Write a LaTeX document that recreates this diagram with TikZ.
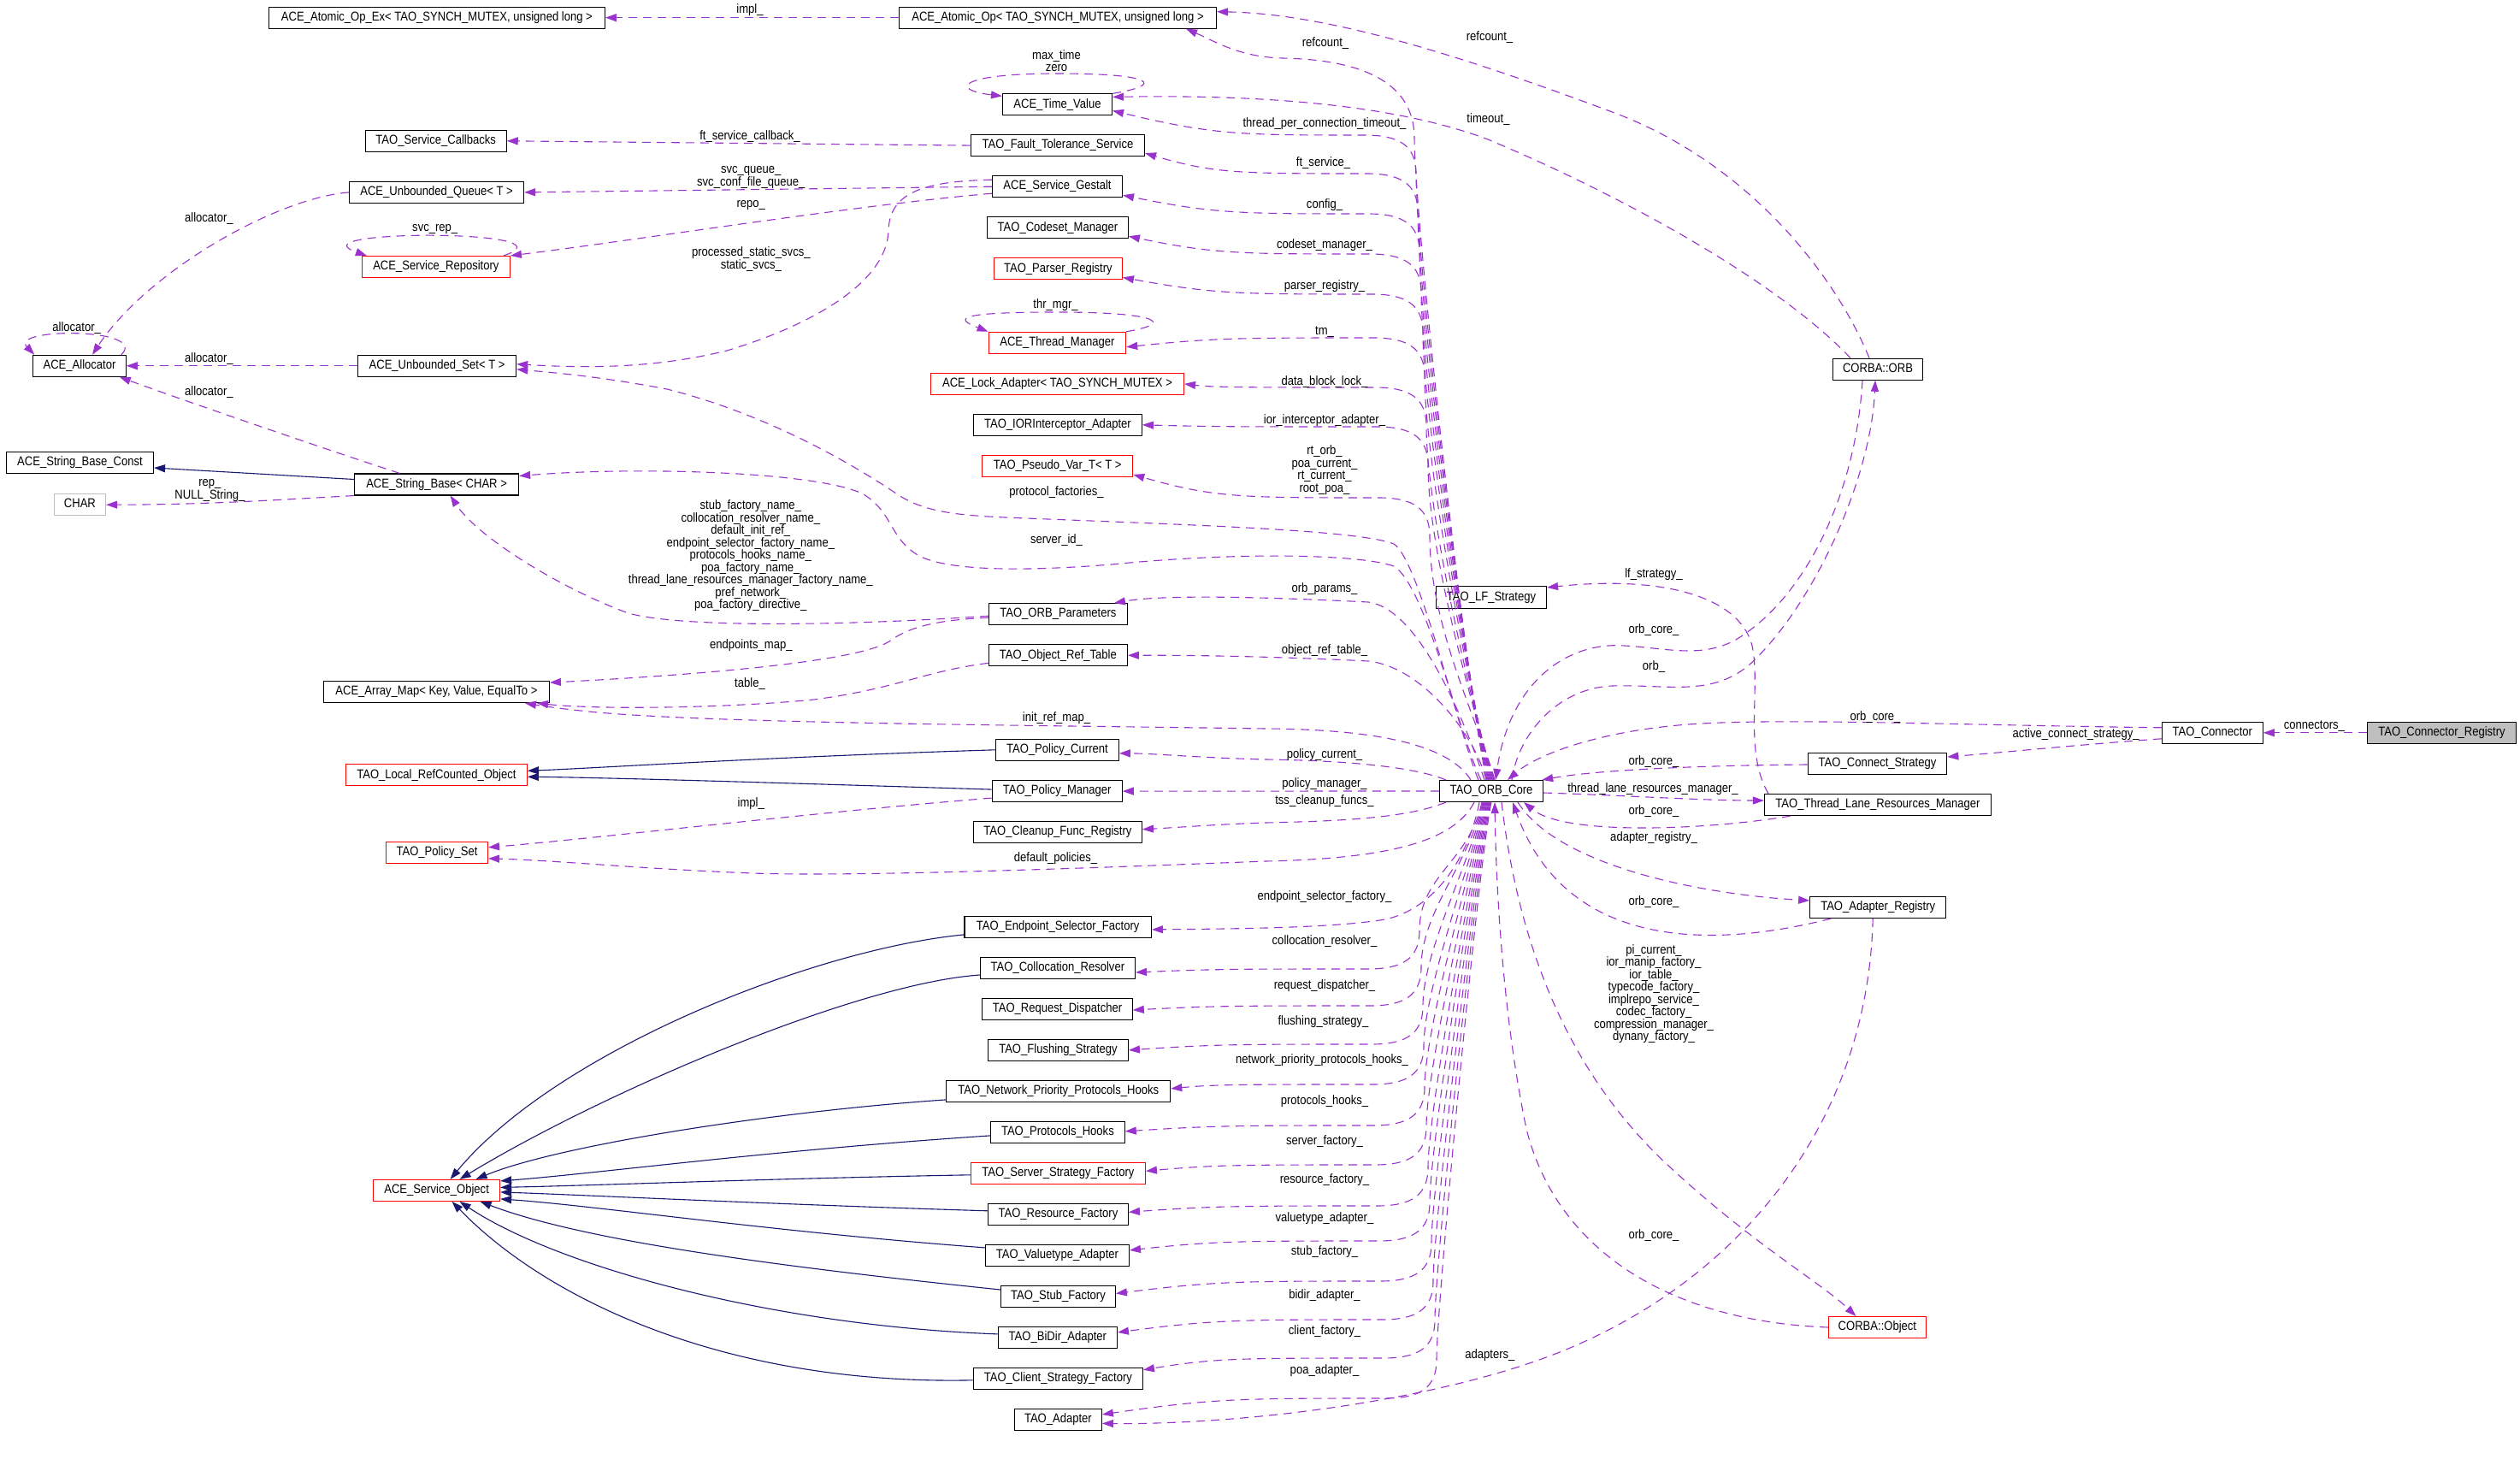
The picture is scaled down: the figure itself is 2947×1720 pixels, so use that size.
\documentclass[tikz,border=0pt]{standalone}
\usepackage{fontspec}
\setmainfont{Liberation Sans}[FakeStretch=0.87]
\usetikzlibrary{arrows.meta}
\definecolor{depcol}{HTML}{9A32CD}
\definecolor{inhcol}{HTML}{191970}
\definecolor{boxgray}{HTML}{BFBFBF}
\tikzset{
 cls/.style={draw=black, line width=1.1pt, rectangle, minimum height=25pt, inner sep=0pt, text height=11pt, text depth=3.5pt, font=\fontsize{15}{14.5}\selectfont, text=black},
 redcls/.style={cls, draw=red},
 graycls/.style={cls, draw=boxgray},
 dep/.style={draw=depcol, line width=1.1pt, dash pattern=on 10pt off 7pt, -{Triangle[length=13pt,width=9pt]}},
 inh/.style={draw=inhcol, line width=1.1pt, -{Triangle[length=13pt,width=9pt]}},
 lbl/.style={inner sep=0pt, font=\fontsize{15}{14.5}\selectfont, align=center},
}
\newcommand\fanT[4]{\draw[dep] ([xshift=#1pt]orbcore.north) .. controls +(-20,-70) and (#2,{#3+150}) .. (#2,{#3+45}) .. controls (#2,{#3+12}) and ({#2-20},#3) .. ({#2-60},#3) .. controls (1450,#3) and (1420,#3) .. (#4);}
\newcommand\fanB[4]{\draw[dep] ([xshift=#1pt]orbcore.south) .. controls +(-15,70) and (#2,{#3-110}) .. (#2,{#3-45}) .. controls (#2,{#3-12}) and ({#2-20},#3) .. ({#2-60},#3) .. controls (1450,#3) and (1420,#3) .. (#4);}
\begin{document}
\catcode`\_=12
\begin{tikzpicture}[x=1pt,y=-1pt]
\fill[white] (0,0) rectangle (2947,1720);
\useasboundingbox (0,0) rectangle (2947,1720);

% ---------- nodes, left column ----------
\node[cls, minimum width=393pt] (atomicopex) at (510.9,20.7) {ACE_Atomic_Op_Ex< TAO_SYNCH_MUTEX, unsigned long >};
\node[cls, minimum width=165pt] (callbacks) at (509.7,164.8) {TAO_Service_Callbacks};
\node[cls, minimum width=204pt] (uqueue) at (510.6,224.9) {ACE_Unbounded_Queue< T >};
\node[redcls, minimum width=173pt] (srepo) at (509.9,312) {ACE_Service_Repository};
\node[cls, minimum width=108.5pt] (allocator) at (93,427.8) {ACE_Allocator};
\node[cls, minimum width=185pt] (uset) at (511.1,427.8) {ACE_Unbounded_Set< T >};
\node[cls, minimum width=172pt] (sbconst) at (93.5,541) {ACE_String_Base_Const};
\node[cls, minimum width=192pt] (stringbase) at (510.6,566.5) {ACE_String_Base< CHAR >};
\node[graycls, minimum width=60.4pt] (char) at (93.4,590.2) {CHAR};
\node[cls, minimum width=264pt] (arraymap) at (510.4,809.1) {ACE_Array_Map< Key, Value, EqualTo >};
\node[redcls, minimum width=212pt] (localref) at (510.4,906.3) {TAO_Local_RefCounted_Object};
\node[redcls, minimum width=119pt] (policyset) at (511,996.8) {TAO_Policy_Set};
\node[redcls, minimum width=148pt] (so) at (510.6,1391.9) {ACE_Service_Object};

% ---------- nodes, middle column ----------
\node[cls, minimum width=371pt] (atomicop) at (1237,20.7) {ACE_Atomic_Op< TAO_SYNCH_MUTEX, unsigned long >};
\node[cls, minimum width=128pt] (timevalue) at (1236.5,122.4) {ACE_Time_Value};
\node[cls, minimum width=203pt] (fts) at (1237,170.1) {TAO_Fault_Tolerance_Service};
\node[cls, minimum width=152pt] (gestalt) at (1236.5,218.2) {ACE_Service_Gestalt};
\node[cls, minimum width=165pt] (codeset) at (1236.9,266.3) {TAO_Codeset_Manager};
\node[redcls, minimum width=150pt] (parser) at (1237.4,314.4) {TAO_Parser_Registry};
\node[redcls, minimum width=160.5pt] (tm) at (1236.4,400.8) {ACE_Thread_Manager};
\node[redcls, minimum width=296pt] (lock) at (1236.5,448.9) {ACE_Lock_Adapter< TAO_SYNCH_MUTEX >};
\node[cls, minimum width=197pt] (ior) at (1236.9,496.8) {TAO_IORInterceptor_Adapter};
\node[redcls, minimum width=176pt] (pseudovar) at (1236.7,544.9) {TAO_Pseudo_Var_T< T >};
\node[cls, minimum width=162pt] (orbparams) at (1237.4,718.2) {TAO_ORB_Parameters};
\node[cls, minimum width=162pt] (objreftable) at (1237.4,766.3) {TAO_Object_Ref_Table};
\node[cls, minimum width=144pt] (policycurrent) at (1236.4,876.8) {TAO_Policy_Current};
\node[cls, minimum width=152pt] (policymanager) at (1236.2,925.1) {TAO_Policy_Manager};
\node[cls, minimum width=197pt] (cleanup) at (1236.9,972.7) {TAO_Cleanup_Func_Registry};
\node[cls, minimum width=218.5pt] (eps) at (1237.2,1083.9) {TAO_Endpoint_Selector_Factory};
\node[cls, minimum width=181pt] (colloc) at (1236.9,1132) {TAO_Collocation_Resolver};
\node[cls, minimum width=175.5pt] (reqdisp) at (1236.5,1180) {TAO_Request_Dispatcher};
\node[cls, minimum width=164pt] (flushing) at (1237.4,1227.9) {TAO_Flushing_Strategy};
\node[cls, minimum width=262pt] (netprio) at (1237.7,1275.9) {TAO_Network_Priority_Protocols_Hooks};
\node[cls, minimum width=156.6pt] (protohooks) at (1236.9,1323.9) {TAO_Protocols_Hooks};
\node[redcls, minimum width=204pt] (serverstrat) at (1237.4,1371.8) {TAO_Server_Strategy_Factory};
\node[cls, minimum width=164pt] (resfac) at (1237.4,1419.8) {TAO_Resource_Factory};
\node[cls, minimum width=168pt] (valuetype) at (1236.4,1467.9) {TAO_Valuetype_Adapter};
\node[cls, minimum width=134pt] (stub) at (1237.4,1516) {TAO_Stub_Factory};
\node[cls, minimum width=139pt] (bidir) at (1236.9,1563.9) {TAO_BiDir_Adapter};
\node[cls, minimum width=198pt] (clientstrat) at (1237.4,1611.8) {TAO_Client_Strategy_Factory};
\node[cls, minimum width=102pt] (adapter) at (1237.4,1659.9) {TAO_Adapter};

% ---------- nodes, right ----------
\node[cls, minimum width=129pt, minimum height=26pt] (lf) at (1744,698.5) {TAO_LF_Strategy};
\node[cls, minimum width=121.3pt] (orbcore) at (1744,925) {TAO_ORB_Core};
\node[cls, minimum width=105pt] (orb) at (2196,431.7) {CORBA::ORB};
\node[cls, minimum width=162.5pt] (connstrat) at (2195.5,893) {TAO_Connect_Strategy};
\node[cls, minimum width=265pt] (threadlane) at (2196,941) {TAO_Thread_Lane_Resources_Manager};
\node[cls, minimum width=159pt] (adreg) at (2196.2,1061) {TAO_Adapter_Registry};
\node[cls, minimum width=118pt] (connector) at (2587.3,856.8) {TAO_Connector};
\node[cls, fill=boxgray, minimum width=174.4pt] (connreg) at (2855.5,856.8) {TAO_Connector_Registry};
\node[redcls, minimum width=114pt] (corbaobj) at (2195.4,1552) {CORBA::Object};

% ---------- ORB_Core fan, upper ----------
\draw[dep] ([xshift=-5pt]orbcore.north) .. controls +(-20,-70) and (1654,260) .. (1654,160) .. controls (1653,100) and (1600,70) .. (1500,68) .. controls (1450,67) and (1420,48) .. ([xshift=-36pt]atomicop.south east);
\fanT{-4}{1656}{158}{[yshift=-7pt]timevalue.east}
\fanT{-3}{1658}{203}{[yshift=-9pt]fts.east}
\fanT{-2}{1660}{250}{[yshift=-10pt]gestalt.east}
\fanT{-1}{1662}{297}{[yshift=-10pt]codeset.east}
\fanT{0}{1664}{344}{[yshift=-10pt]parser.east}
\fanT{1}{1666}{395}{[yshift=-5pt]tm.east}
\fanT{2}{1668}{453}{lock.east}
\fanT{3}{1670}{499}{ior.east}
\fanT{4}{1672}{582}{[yshift=-10pt]pseudovar.east}
\draw[dep] ([xshift=-15pt]orbcore.north) .. controls +(-25,-60) and (1660,655) .. (1630,636) .. controls (1590,620) and (1400,614) .. (1200,606) .. controls (1120,603) and (1080,600) .. (1045,575) .. controls (1000,545) and (900,485) .. (780,455) .. controls (700,440) and (650,436) .. ([yshift=-4pt]uset.east);
\draw[dep] ([xshift=-12pt]orbcore.north) .. controls +(-25,-50) and (1668,685) .. (1630,662) .. controls (1590,648) and (1450,645) .. (1300,660) .. controls (1200,668) and (1110,668) .. (1075,650) .. controls (1040,630) and (1045,600) .. (1010,578) .. controls (960,552) and (750,545) .. ([yshift=10pt]stringbase.east);
\draw[dep] ([xshift=-8pt]orbcore.north) .. controls +(-20,-60) and (1662,712) .. (1600,704) .. controls (1480,698) and (1360,695) .. ([xshift=-16pt]orbparams.north east);
\draw[dep] ([xshift=-6pt]orbcore.north) .. controls +(-12,-50) and (1665,780) .. (1600,773) .. controls (1480,767) and (1380,766) .. (objreftable.east);
\draw[dep] ([xshift=-24pt]orbcore.north) .. controls (1700,880) and (1640,853) .. (1480,852) .. controls (1200,848) and (900,846) .. (740,836) .. controls (690,833) and (650,828) .. ([xshift=-29pt]arraymap.south east);
\draw[dep] ([xshift=8pt]orbcore.north west) .. controls (1650,895) and (1560,889) .. (1480,888) .. controls (1400,886) and (1350,881) .. ([yshift=-4pt]policycurrent.east);
\draw[dep] (orbcore.west) -- (policymanager.east);

% ---------- ORB_Core fan, lower ----------
\draw[dep] ([xshift=8pt]orbcore.south west) .. controls (1650,955) and (1580,960) .. (1480,962) .. controls (1420,964) and (1370,968) .. ([yshift=3pt]cleanup.east);
\draw[dep] ([xshift=-20pt]orbcore.south) .. controls (1700,985) and (1620,1004) .. (1480,1007) .. controls (1250,1016) and (1000,1025) .. (880,1021) .. controls (750,1016) and (650,1006) .. ([yshift=-7pt]policyset.east);
\draw[dep] ([xshift=-14pt]orbcore.south) .. controls (1718,1000) and (1680,1062) .. (1620,1075) .. controls (1560,1085) and (1450,1086) .. ([yshift=-3pt]eps.east);
\fanB{-11}{1660}{1133}{[yshift=-5pt]colloc.east}
\fanB{-10}{1662}{1176}{[yshift=-1pt]reqdisp.east}
\fanB{-9}{1664}{1221}{flushing.east}
\fanB{-8}{1665}{1268}{[yshift=3pt]netprio.east}
\fanB{-7}{1666}{1316}{[yshift=1pt]protohooks.east}
\fanB{-6}{1668}{1362}{[yshift=2.5pt]serverstrat.east}
\fanB{-5}{1670}{1410}{[yshift=2.5pt]resfac.east}
\fanB{-4}{1672}{1451}{[yshift=6pt]valuetype.east}
\fanB{-3}{1674}{1498}{[yshift=3.5pt]stub.east}
\fanB{-2}{1676}{1543}{[yshift=6pt]bidir.east}
\fanB{-1}{1678}{1588}{[yshift=10pt]clientstrat.east}
\fanB{0}{1680}{1635}{[yshift=6pt]adapter.east}

% ---------- right side ----------
\draw[dep] ([xshift=-10pt]orb.north) .. controls (2150,330) and (2050,190) .. (1880,129) .. controls (1700,62) and (1550,16) .. ([yshift=7pt]atomicop.east);
\draw[dep] ([xshift=-32pt]orb.north) .. controls (2080,330) and (1900,230) .. (1740,163) .. controls (1620,118) and (1450,111) .. ([yshift=9pt]timevalue.east);
\draw[dep] ([xshift=24pt]orbcore.north) .. controls (1775,860) and (1820,805) .. (1885,802) .. controls (1950,800) and (2000,815) .. (2045,778) .. controls (2120,710) and (2188,560) .. ([xshift=-3pt]orb.south);
\draw[dep] ([xshift=-18pt]orb.south) .. controls (2170,580) and (2110,700) .. (2030,748) .. controls (1990,770) and (1950,758) .. (1900,755) .. controls (1830,750) and (1765,800) .. ([xshift=5pt]orbcore.north);
\draw[dep] ([xshift=5pt]threadlane.north west) .. controls (2040,880) and (2058,810) .. (2050,760) .. controls (2040,700) and (1950,672) .. ([yshift=-2pt]lf.north east);
\draw[dep] ([yshift=-2pt]orbcore.east) .. controls (1900,930) and (1990,936) .. ([yshift=5pt]threadlane.west);
\draw[dep] ([xshift=-102pt]threadlane.south) .. controls (2000,970) and (1830,978) .. ([xshift=38pt]orbcore.south);
\draw[dep] ([xshift=31pt]orbcore.south) .. controls (1820,1010) and (1980,1045) .. ([yshift=8pt]adreg.west);
\draw[dep] ([xshift=-55pt]adreg.south) .. controls (2000,1110) and (1830,1110) .. ([xshift=25pt]orbcore.south);
\draw[dep] ([yshift=-1pt]connstrat.west) .. controls (1990,895) and (1870,900) .. ([xshift=-2pt]orbcore.north east);
\draw[dep] ([yshift=6pt]connector.west) .. controls (2300,848) and (2100,840) .. (1990,846) .. controls (1880,852) and (1800,880) .. ([xshift=19pt]orbcore.north);
\draw[dep] ([yshift=-7pt]connector.west) .. controls (2440,870) and (2340,880) .. ([yshift=8pt]connstrat.east);
\draw[dep] (connreg.west) -- (connector.east);
\draw[dep] ([xshift=12pt]orbcore.south) .. controls (1775,1100) and (1830,1250) .. (1950,1362) .. controls (2050,1455) and (2130,1500) .. ([xshift=-25pt]corbaobj.north);
\draw[dep] (corbaobj.west) .. controls (1950,1545) and (1820,1460) .. (1785,1320) .. controls (1760,1200) and (1750,1060) .. ([xshift=4pt]orbcore.south);
\draw[dep] ([xshift=-6pt]adreg.south) .. controls (2185,1300) and (2050,1480) .. (1850,1570) .. controls (1700,1638) and (1450,1666) .. ([yshift=-4.5pt]adapter.east);

% ---------- middle/left edges ----------
\draw[dep] (atomicop.west) -- (atomicopex.east);
\draw[dep] (fts.west) -- (callbacks.east);
\draw[dep] (gestalt.west) -- (uqueue.east);
\draw[dep] ([yshift=-8pt]gestalt.west) .. controls (1000,240) and (750,280) .. (srepo.north east);
\draw[dep] ([yshift=8pt]gestalt.west) .. controls (1080,212) and (1040,225) .. (1039,270) .. controls (1037,330) and (950,380) .. (850,410) .. controls (760,432) and (680,430) .. ([yshift=2pt]uset.east);
\draw[dep] (timevalue.north east) .. controls (1360,100) and (1355,86) .. (1236,86) .. controls (1120,86) and (1110,105) .. ([yshift=-3pt]timevalue.north west);
\draw[dep] (tm.north east) .. controls (1375,378) and (1355,365) .. (1236,365) .. controls (1120,365) and (1115,372) .. (tm.north west);
\draw[dep] ([xshift=-8pt]srepo.north east) .. controls (680,268) and (340,268) .. ([xshift=6pt]srepo.north west);
\draw[dep] ([xshift=-6pt]allocator.north east) .. controls (175,383) and (10,383) .. ([xshift=2pt]allocator.north west);
\draw[dep] (uqueue.west) .. controls (320,232) and (170,320) .. ([xshift=15pt]allocator.north);
\draw[dep] (uset.west) -- (allocator.east);
\draw[dep] ([xshift=-43pt]stringbase.north) .. controls (380,525) and (220,470) .. ([xshift=-8pt]allocator.south east);
\draw[inh] ([yshift=6pt]stringbase.west) -- ([yshift=-6pt]sbconst.east);
\draw[dep] (stringbase.south west) .. controls (330,584) and (250,590) .. (char.east);
\draw[dep] ([yshift=-2pt]orbparams.west) .. controls (1000,731) and (800,735) .. (735,717) .. controls (660,690) and (560,630) .. ([xshift=16pt]stringbase.south);
\draw[dep] ([yshift=-4pt]orbparams.west) .. controls (1090,725) and (1060,735) .. (1040,750) .. controls (1000,775) and (800,790) .. ([yshift=11pt]arraymap.east);
\draw[dep] ([yshift=-9pt]objreftable.west) .. controls (1080,785) and (1050,805) .. (952,818) .. controls (850,828) and (700,830) .. ([xshift=-15pt]arraymap.south east);
\draw[inh] (policycurrent.west) .. controls (900,885) and (700,898) .. ([yshift=5pt]localref.east);
\draw[inh] ([yshift=2pt]policymanager.west) .. controls (900,915) and (700,909) .. ([yshift=-2pt]localref.east);
\draw[dep] ([yshift=-8pt]policymanager.west) .. controls (950,950) and (700,980) .. ([yshift=6pt]policyset.east);

% ---------- inheritance to ACE_Service_Object ----------
\draw[inh] ([yshift=-9pt]eps.west) .. controls (950,1110) and (650,1230) .. ([xshift=16pt]so.north);
\draw[inh] ([yshift=-8pt]colloc.west) .. controls (1000,1150) and (700,1280) .. ([xshift=27pt]so.north);
\draw[inh] ([yshift=-10pt]netprio.west) .. controls (900,1300) and (650,1340) .. ([xshift=46pt]so.north);
\draw[inh] ([yshift=-4pt]protohooks.west) .. controls (900,1345) and (700,1372) .. ([yshift=11pt]so.east);
\draw[inh] ([yshift=-2pt]serverstrat.west) .. controls (900,1378) and (700,1386) .. ([yshift=3.5pt]so.east);
\draw[inh] ([yshift=4pt]resfac.west) .. controls (900,1408) and (700,1398) .. ([yshift=-2pt]so.east);
\draw[inh] ([yshift=9pt]valuetype.west) .. controls (900,1440) and (700,1410) .. ([yshift=-10pt]so.east);
\draw[inh] ([yshift=8pt]stub.west) .. controls (900,1480) and (680,1450) .. ([xshift=51pt]so.south);
\draw[inh] ([yshift=4pt]bidir.west) .. controls (900,1550) and (650,1480) .. ([xshift=27pt]so.south);
\draw[inh] ([yshift=-2pt]clientstrat.west) .. controls (850,1620) and (640,1520) .. ([xshift=18pt]so.south);

% ---------- labels ----------
\node[lbl] (l01) at (877,12) {impl_};
\node[lbl] (l02) at (1235.5,71) {max_time\\zero};
\node[lbl] (l03) at (1742,43.6) {refcount_};
\node[lbl] (l04) at (1550,50.7) {refcount_};
\node[lbl] (l05) at (1549,144.6) {thread_per_connection_timeout_};
\node[lbl] (l06) at (1740.5,139.8) {timeout_};
\node[lbl] (l07) at (877,159.8) {ft_service_callback_};
\node[lbl] (l08) at (1547.5,190.5) {ft_service_};
\node[lbl] (l09) at (878.3,207.3) {svc_queue_\\svc_conf_file_queue_};
\node[lbl] (l10) at (878.3,240.4) {repo_};
\node[lbl] (l11) at (1549,239.7) {config_};
\node[lbl] (l12) at (508.7,267.8) {svc_rep_};
\node[lbl] (l13) at (244.4,255.6) {allocator_};
\node[lbl] (l14) at (1549,286.7) {codeset_manager_};
\node[lbl] (l15) at (878.3,303.3) {processed_static_svcs_\\static_svcs_};
\node[lbl] (l16) at (1549,334.8) {parser_registry_};
\node[lbl] (l17) at (1234.5,357) {thr_mgr_};
\node[lbl] (l18) at (89.7,383.6) {allocator_};
\node[lbl] (l19) at (1549,387.7) {tm_};
\node[lbl] (l20) at (244.4,419.5) {allocator_};
\node[lbl] (l21) at (1549,446.5) {data_block_lock_};
\node[lbl] (l22) at (244.4,458.7) {allocator_};
\node[lbl] (l23) at (1549,492) {ior_interceptor_adapter_};
\node[lbl] (l24) at (1549,549.7) {rt_orb_\\poa_current_\\rt_current_\\root_poa_};
\node[lbl] (l25) at (245.4,573.5) {rep_\\NULL_String_};
\node[lbl] (l26) at (1235.5,575.7) {protocol_factories_};
\node[lbl] (l27) at (877.8,650) {stub_factory_name_\\collocation_resolver_name_\\default_init_ref_\\endpoint_selector_factory_name_\\protocols_hooks_name_\\poa_factory_name_\\thread_lane_resources_manager_factory_name_\\pref_network_\\poa_factory_directive_};
\node[lbl] (l28) at (1235.5,631.6) {server_id_};
\node[lbl] (l29) at (1549,689) {orb_params_};
\node[lbl] (l30) at (1934,671.7) {lf_strategy_};
\node[lbl] (l31) at (1934,736.8) {orb_core_};
\node[lbl] (l32) at (878.3,754.8) {endpoints_map_};
\node[lbl] (l33) at (1549,760.5) {object_ref_table_};
\node[lbl] (l34) at (1934,780) {orb_};
\node[lbl] (l35) at (877,799.6) {table_};
\node[lbl] (l36) at (1235.5,839.4) {init_ref_map_};
\node[lbl] (l37) at (2193,838.6) {orb_core_};
\node[lbl] (l38) at (2706.4,849) {connectors_};
\node[lbl] (l39) at (2427.7,858.9) {active_connect_strategy_};
\node[lbl] (l40) at (1549,883) {policy_current_};
\node[lbl] (l41) at (1934,890.6) {orb_core_};
\node[lbl] (l42) at (1549,916.7) {policy_manager_};
\node[lbl] (l43) at (1933,922.4) {thread_lane_resources_manager_};
\node[lbl] (l44) at (1549,937) {tss_cleanup_funcs_};
\node[lbl] (l45) at (878.3,939.6) {impl_};
\node[lbl] (l46) at (1934,948.8) {orb_core_};
\node[lbl] (l47) at (1934,979.8) {adapter_registry_};
\node[lbl] (l48) at (1234.5,1003.2) {default_policies_};
\node[lbl] (l49) at (1549,1048.7) {endpoint_selector_factory_};
\node[lbl] (l50) at (1934,1054.8) {orb_core_};
\node[lbl] (l51) at (1549,1100.7) {collocation_resolver_};
\node[lbl] (l52) at (1934,1162) {pi_current_\\ior_manip_factory_\\ior_table_\\typecode_factory_\\implrepo_service_\\codec_factory_\\compression_manager_\\dynany_factory_};
\node[lbl] (l53) at (1549,1152.4) {request_dispatcher_};
\node[lbl] (l54) at (1547.5,1194.7) {flushing_strategy_};
\node[lbl] (l55) at (1546,1239.9) {network_priority_protocols_hooks_};
\node[lbl] (l56) at (1549,1288) {protocols_hooks_};
\node[lbl] (l57) at (1549,1334.9) {server_factory_};
\node[lbl] (l58) at (1549,1379.7) {resource_factory_};
\node[lbl] (l59) at (1549,1424.8) {valuetype_adapter_};
\node[lbl] (l60) at (1934,1444.1) {orb_core_};
\node[lbl] (l61) at (1549,1463.7) {stub_factory_};
\node[lbl] (l62) at (1549,1514.7) {bidir_adapter_};
\node[lbl] (l63) at (1549,1556.9) {client_factory_};
\node[lbl] (l64) at (1742.4,1584.6) {adapters_};
\node[lbl] (l65) at (1549,1603.1) {poa_adapter_};
\end{tikzpicture}
\end{document}
